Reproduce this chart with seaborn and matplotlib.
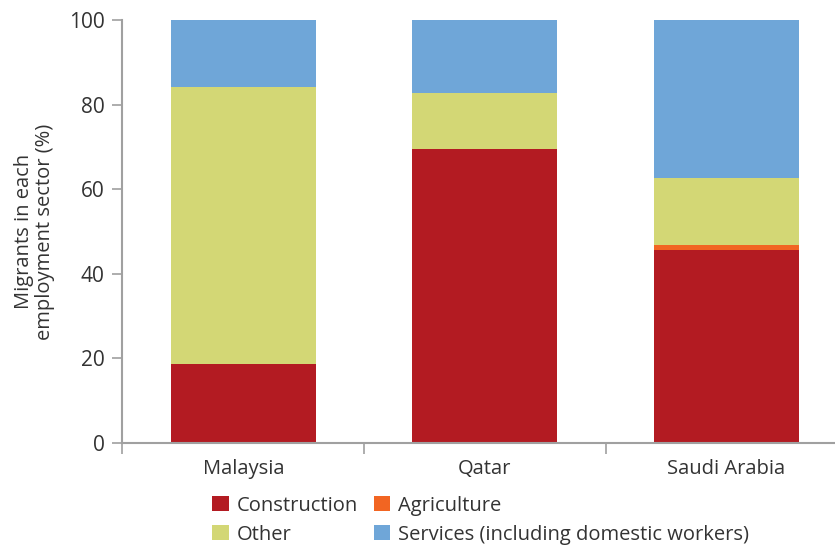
import numpy as np
import pandas as pd
import seaborn as sns
import matplotlib
matplotlib.use("Agg")
from matplotlib import pyplot as plt
from matplotlib.patches import Patch

# data
countries = ["Malaysia", "Qatar", "Saudi Arabia"]
construction = [18.6, 69.5, 45.6]
agriculture = [0.0, 0.0, 1.1]
other = [65.5, 13.2, 15.9]
services = [15.9, 17.3, 37.4]

sectors = ["Construction", "Agriculture", "Other", "Services (including domestic workers)"]
colors = ["#B31B22", "#F26522", "#D3D775", "#6FA6D8"]

sns.set_style("white")
plt.rcParams["font.family"] = ["Open Sans", "DejaVu Sans"]

df = pd.DataFrame({"country": countries, "Construction": construction,
                   "Agriculture": agriculture, "Other": other,
                   "Services (including domestic workers)": services})

fig = plt.figure(figsize=(8.35, 5.48), dpi=100)
ax = fig.add_axes([0.1467, 0.192, 0.868, 0.7715])

# stack: draw cumulative tops, biggest first
cum = df[sectors].cumsum(axis=1)
for s, c in reversed(list(zip(sectors, colors))):
    sns.barplot(x=df["country"], y=cum[s], color=c, width=0.6,
                saturation=1, ax=ax, linewidth=0)

ax.set_xlim(-0.5, 2.5)
ax.set_ylim(0, 100)
ax.set_yticks([0, 20, 40, 60, 80, 100])
ax.set_xlabel("")
ax.set_ylabel("Migrants in each\nemployment sector (%)", fontsize=14.5,
              color="#333333", labelpad=10, linespacing=1.05)

for sp in ["top", "right"]:
    ax.spines[sp].set_visible(False)
for sp in ["left", "bottom"]:
    ax.spines[sp].set_color("#a0a0a0")
    ax.spines[sp].set_linewidth(1.5)

ax.tick_params(axis="y", length=7, width=1.2, color="#a0a0a0", pad=6,
               labelsize=15, labelcolor="#333333", left=True)
ax.tick_params(axis="x", which="major", length=0, labelsize=14.5,
               labelcolor="#333333", pad=12)
ax.set_xticks([0.5, 1.5, 2.5, -0.5], minor=True)
ax.tick_params(axis="x", which="minor", length=8, width=1.2,
               color="#a0a0a0", bottom=True)

handles = [Patch(facecolor=c, edgecolor="none") for c in colors]
order = [0, 2, 1, 3]
leg = fig.legend([handles[i] for i in order], [sectors[i] for i in order],
                 ncol=2, loc="lower left", bbox_to_anchor=(0.24, -0.016),
                 frameon=False, fontsize=14.5, handlelength=0.8,
                 handleheight=0.8, handletextpad=0.4, columnspacing=0.8,
                 labelspacing=0.45, borderaxespad=0.2)
for t in leg.get_texts():
    t.set_color("#333333")

fig.savefig("out.png", dpi=100)
